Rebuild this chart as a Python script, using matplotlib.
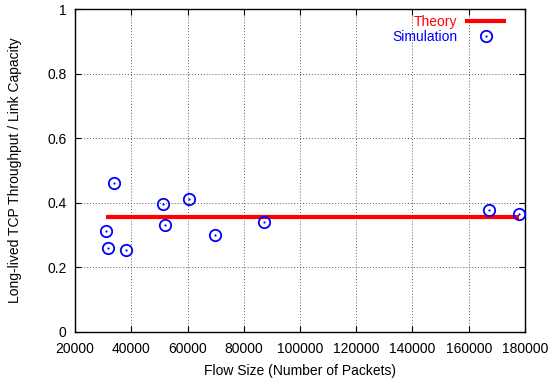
import matplotlib
matplotlib.use("Agg")
import matplotlib.pyplot as plt
from matplotlib.legend_handler import HandlerTuple

# simulation results
flow_size = [31100, 31700, 33900, 38200, 51200, 52100, 60500, 69800, 87200, 167100, 178000]
throughput = [0.312, 0.260, 0.461, 0.254, 0.398, 0.332, 0.413, 0.301, 0.341, 0.379, 0.365]
theory_value = 0.357

x_ticks = [20000, 40000, 60000, 80000, 100000, 120000, 140000, 160000, 180000]
x_tick_labels = [str(v) for v in x_ticks]
y_ticks = [0, 0.2, 0.4, 0.6, 0.8, 1]
y_tick_labels = ["0", "0.2", "0.4", "0.6", "0.8", "1"]

plt.rcParams['font.family'] = ['Liberation Sans', 'DejaVu Sans']
plt.rcParams['font.size'] = 10

fig = plt.figure(figsize=(5.5, 3.82), dpi=100)
ax = fig.add_axes([0.1364, 0.1309, 0.8181, 0.8448])

# theory line spans the simulated range
th, = ax.plot([min(flow_size), max(flow_size)], [theory_value, theory_value],
              color='red', lw=3, solid_capstyle='butt', zorder=3)

circ, = ax.plot(flow_size, throughput, linestyle='none', marker='o', ms=8.2,
                mfc='none', mec='blue', mew=1.3, clip_on=False, zorder=4)
dot, = ax.plot(flow_size, throughput, linestyle='none', marker='o', ms=1.6,
               mfc='blue', mec='blue', mew=0, clip_on=False, zorder=4)

ax.set_xlim(20000, 180000)
ax.set_ylim(0, 1)
ax.set_xticks(x_ticks)
ax.set_xticklabels(x_tick_labels)
ax.set_yticks(y_ticks)
ax.set_yticklabels(y_tick_labels)
ax.tick_params(direction='in', top=True, right=True, length=4.5, width=0.8)
ax.tick_params(axis='x', pad=7)
ax.tick_params(axis='y', pad=6)
ax.grid(True, color='0.35', linestyle=(0, (1, 2)), lw=0.7)
for s in ax.spines.values():
    s.set_linewidth(1.0)

ax.set_xlabel("Flow Size (Number of Packets)", labelpad=6)
ax.set_ylabel("Long-lived TCP Throughput / Link Capacity", labelpad=18)

leg = ax.legend([th, (circ, dot)], ["Theory", "Simulation"], loc='upper right',
                bbox_to_anchor=(0.985, 1.02), frameon=False, markerfirst=False,
                handlelength=2.9, handletextpad=0.6, labelspacing=0.05,
                handler_map={tuple: HandlerTuple(ndivide=1)})
for t, c in zip(leg.get_texts(), ['red', 'blue']):
    t.set_color(c)

fig.savefig("out.png", dpi=100)
